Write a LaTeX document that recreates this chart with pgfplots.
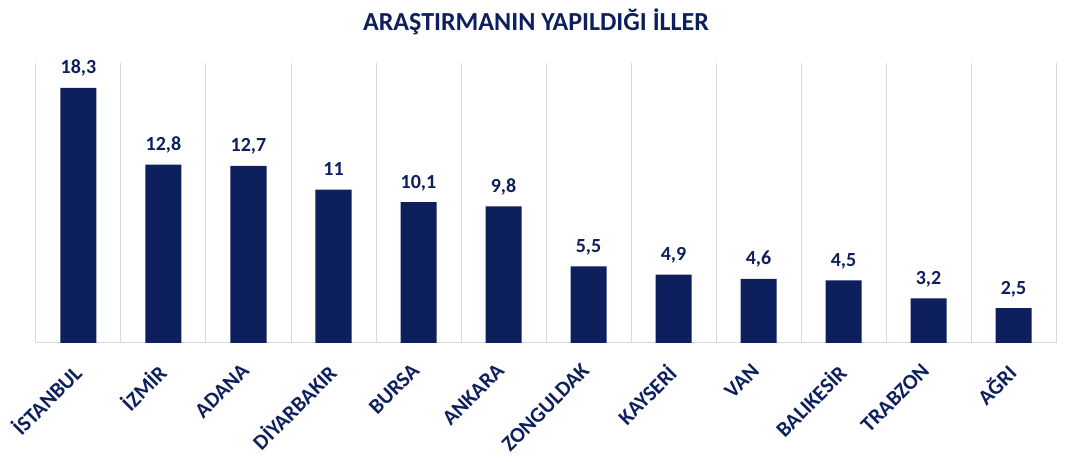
\documentclass[border=0pt]{standalone}
\usepackage{pgfplots}
\pgfplotsset{compat=1.18}
\usepackage{fontspec}
\setmainfont{Carlito}
\definecolor{navy}{HTML}{0D1F5C}
\definecolor{gridgray}{HTML}{D9D9D9}
\begin{document}
\begin{tikzpicture}
\path[use as bounding box] (-36pt,-119pt) rectangle (1032pt,343pt);
\begin{axis}[
  at={(0pt,0pt)}, anchor=south west,
  scale only axis, width=1020pt, height=280pt,
  xmin=-0.5, xmax=11.5, ymin=0, ymax=20.09,
  ybar, bar width=36pt,
  axis x line*=bottom, axis y line=none,
  x axis line style={gridgray, line width=1pt, -},
  xtick={0,1,2,3,4,5,6,7,8,9,10,11},
  xticklabels={İSTANBUL,İZMİR,ADANA,DİYARBAKIR,BURSA,ANKARA,ZONGULDAK,KAYSERİ,VAN,BALIKESİR,TRABZON,AĞRI},
  major tick length=0pt,
  minor xtick={-0.5,0.5,1.5,2.5,3.5,4.5,5.5,6.5,7.5,8.5,9.5,10.5,11.5},
  minor tick length=0pt,
  xminorgrids, minor grid style={gridgray, line width=1pt},
  xticklabel style={font=\fontsize{21.5}{25}\selectfont\bfseries, text=navy, yshift=-19pt, xshift=-8pt, rotate=45, anchor=north east, inner sep=0pt},
  nodes near coords,
  point meta=explicit symbolic,
  nodes near coords style={font=\fontsize{20}{24}\selectfont\bfseries, text=navy, anchor=base, yshift=14pt, inner sep=0pt},
  clip=false,
]
\addplot[fill=navy, draw=none] table[meta=label] {
x y label
0 18.3 18,3
1 12.8 12,8
2 12.7 12,7
3 11.0 11
4 10.1 10,1
5 9.8 9,8
6 5.5 5,5
7 4.9 4,9
8 4.6 4,6
9 4.5 4,5
10 3.2 3,2
11 2.5 2,5
};
\end{axis}
\node[font=\fontsize{26}{30}\selectfont\bfseries, text=navy] at (500pt,321pt) {ARAŞTIRMANIN YAPILDIĞI İLLER};
\end{tikzpicture}
\end{document}
